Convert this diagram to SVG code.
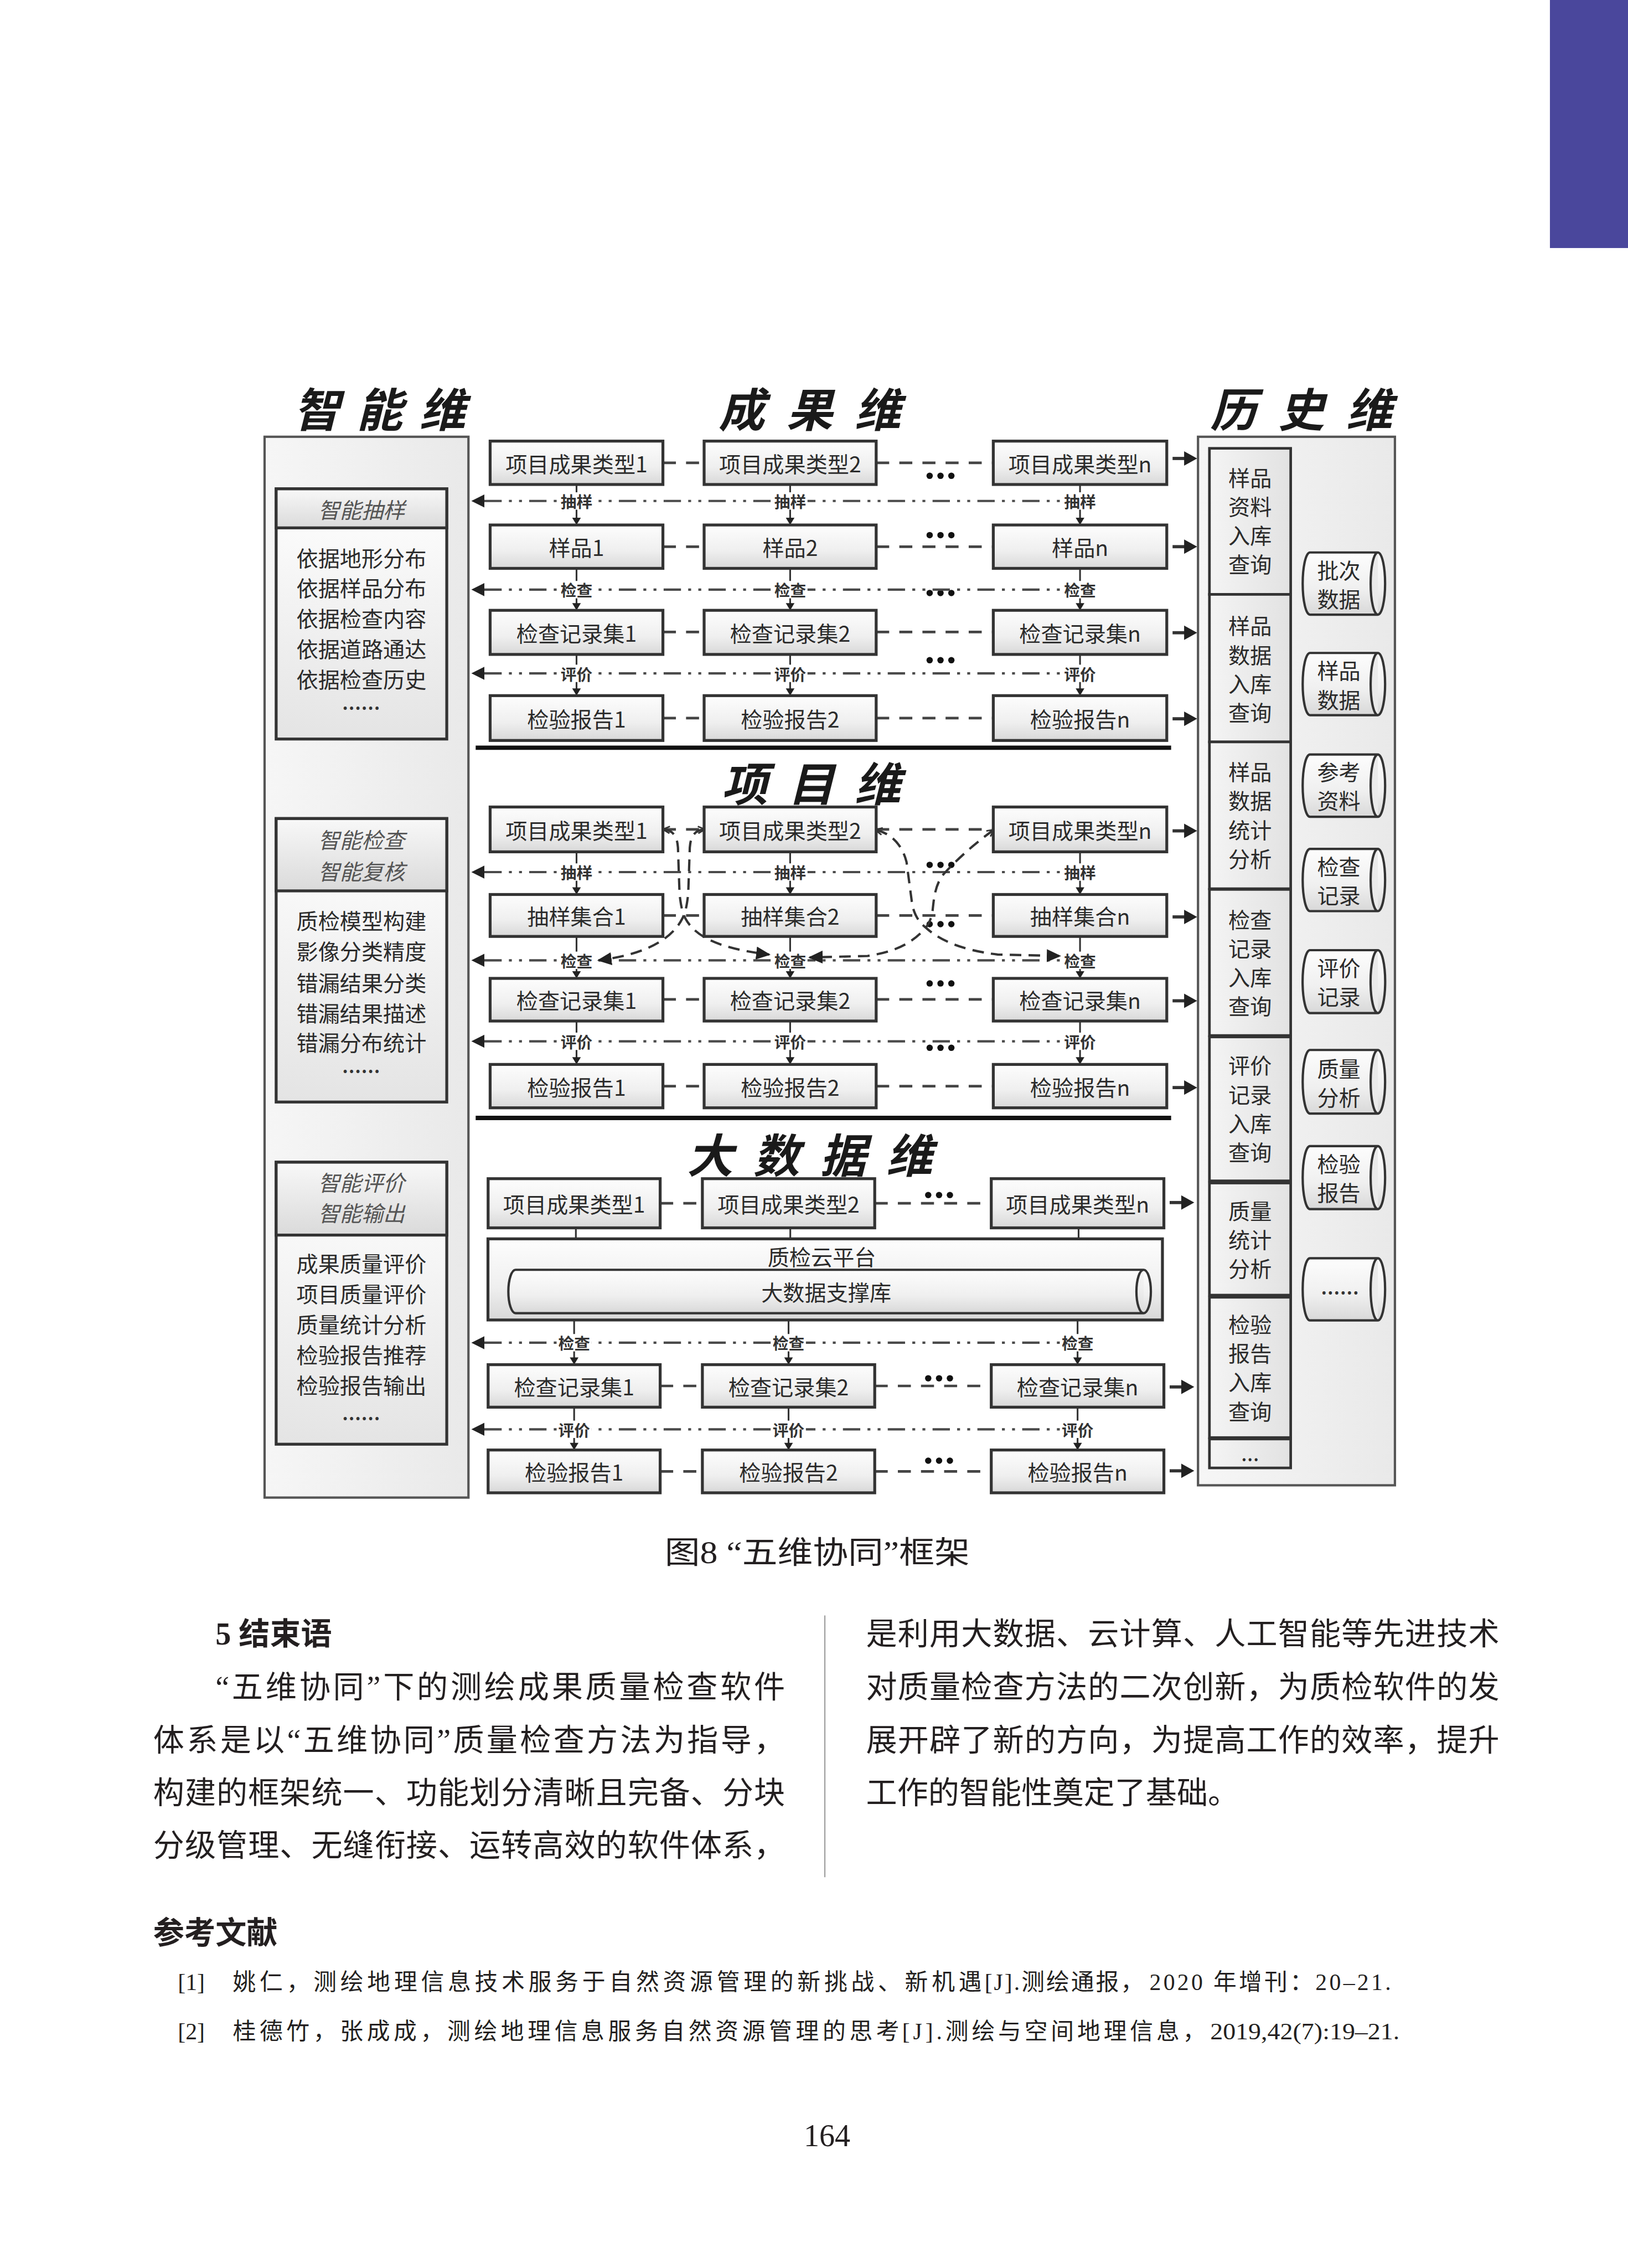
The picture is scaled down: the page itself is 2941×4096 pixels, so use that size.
<svg xmlns="http://www.w3.org/2000/svg" width="2941" height="4096" viewBox="0 0 2941 4096">
<defs>
<linearGradient id="gBox" x1="0" y1="0" x2="0" y2="1"><stop offset="0" stop-color="#fdfdfd"/><stop offset="0.6" stop-color="#efefef"/><stop offset="1" stop-color="#d8d8d8"/></linearGradient>
<linearGradient id="gHdr" x1="0" y1="0" x2="0" y2="1"><stop offset="0" stop-color="#f8f8f8"/><stop offset="1" stop-color="#dadada"/></linearGradient>
<linearGradient id="gBody" x1="0" y1="0" x2="0" y2="1"><stop offset="0" stop-color="#ffffff"/><stop offset="1" stop-color="#e4e4e4"/></linearGradient>
<linearGradient id="gPanel" x1="0" y1="0" x2="1" y2="0"><stop offset="0" stop-color="#f6f6f6"/><stop offset="1" stop-color="#e9e9e9"/></linearGradient>
<linearGradient id="gCol" x1="0" y1="0" x2="1" y2="0"><stop offset="0" stop-color="#f4f4f4"/><stop offset="1" stop-color="#e2e2e2"/></linearGradient>
<marker id="ahF" viewBox="0 0 10 10" refX="9" refY="5" markerWidth="10" markerHeight="10" markerUnits="userSpaceOnUse" orient="auto"><path d="M0,0.5 L10,5 L0,9.5 z" fill="#222"/></marker>
<marker id="ahO" viewBox="0 0 10 10" refX="8" refY="5" markerWidth="6" markerHeight="6" markerUnits="userSpaceOnUse" orient="auto-start-reverse"><path d="M1,1 L9,5 L1,9" fill="none" stroke="#333" stroke-width="1.8"/></marker>
</defs>
<style>
.box{fill:url(#gBox);stroke:#333;stroke-width:2}
.panel{fill:url(#gPanel);stroke:#555;stroke-width:1.6}
.col{fill:url(#gCol);stroke:#333;stroke-width:1.8}
.cyl{fill:url(#gBox);stroke:#333;stroke-width:1.6}
.t{font-family:"Noto Sans CJK SC","Liberation Sans",sans-serif;font-size:15px;fill:#2b2b2b;text-anchor:middle;dominant-baseline:central}
.hi{font-style:italic;fill:#555}
.el{font-family:"Noto Sans CJK SC","Liberation Sans",sans-serif;font-size:12px;font-weight:bold;fill:#333;text-anchor:middle;letter-spacing:0.5px}
.title{font-family:"Noto Sans CJK SC",sans-serif;font-size:32px;font-style:italic;font-weight:bold;fill:#1a1a1a}
.lbl{font-family:"Noto Sans CJK SC",sans-serif;font-size:11px;font-weight:bold;fill:#333;text-anchor:middle;dominant-baseline:central}
.lb{fill:#fff}
.conn{stroke:#444;stroke-width:1.8;stroke-dasharray:9 7;fill:none}
.dd{stroke:#4a4a4a;stroke-width:1.6;stroke-dasharray:12 5 2 5 2 5;fill:none}
.cv{stroke:#333;stroke-width:1.6;stroke-dasharray:8 5;fill:none}
.vl{stroke:#333;stroke-width:1.2}
.ah{fill:#222}
.dot{fill:#111}
.sep{stroke:#111;stroke-width:3}
.body{font-family:"Liberation Serif","Noto Sans CJK SC",serif;font-size:21.5px;fill:#231f20}
.ref{font-family:"Liberation Serif","Noto Sans CJK SC",serif;font-size:16px;fill:#231f20}
</style>
<rect x="0" y="0" width="2941" height="4096" fill="#ffffff"/>
<g transform="scale(2.6119)">
<rect id="bar" x="1072" y="0" width="54" height="171.5" fill="#4a479c"/>

<g id="titles">
<text class="title" x="203 246.5 290" y="295">智能维</text>
<text class="title" x="497 544 591" y="295">成果维</text>
<text class="title" x="837 884 931" y="295">历史维</text>
<text class="title" x="499 545 591" y="554">项目维</text>
<text class="title" x="475 521 567 613" y="811">大数据维</text>
</g>

<g id="left-panel">
<rect class="panel" x="183" y="302" width="141" height="733.5"/>
</g>
<g id="smart-sampling">
<rect x="191" y="338" width="118" height="173" fill="url(#gBody)" stroke="#333" stroke-width="2"/>
<rect x="191" y="338" width="118" height="27" fill="url(#gHdr)" stroke="#333" stroke-width="2"/>
<text class="t hi" x="250" y="352">智能抽样</text>
<text class="t" x="250" y="385">依据地形分布</text>
<text class="t" x="250" y="406">依据样品分布</text>
<text class="t" x="250" y="427">依据检查内容</text>
<text class="t" x="250" y="448">依据道路通达</text>
<text class="t" x="250" y="469">依据检查历史</text>
<text class="el" x="250" y="491">......</text>
</g>
<g id="smart-check">
<rect x="191" y="566" width="118" height="196" fill="url(#gBody)" stroke="#333" stroke-width="2"/>
<rect x="191" y="566" width="118" height="50" fill="url(#gHdr)" stroke="#333" stroke-width="2"/>
<text class="t hi" x="250" y="580">智能检查</text>
<text class="t hi" x="250" y="602">智能复核</text>
<text class="t" x="250" y="636">质检模型构建</text>
<text class="t" x="250" y="657">影像分类精度</text>
<text class="t" x="250" y="679">错漏结果分类</text>
<text class="t" x="250" y="700">错漏结果描述</text>
<text class="t" x="250" y="720">错漏分布统计</text>
<text class="el" x="250" y="742">......</text>
</g>
<g id="smart-eval">
<rect x="191" y="803.6" width="118" height="195" fill="url(#gBody)" stroke="#333" stroke-width="2"/>
<rect x="191" y="803.6" width="118" height="50.4" fill="url(#gHdr)" stroke="#333" stroke-width="2"/>
<text class="t hi" x="250" y="817">智能评价</text>
<text class="t hi" x="250" y="838">智能输出</text>
<text class="t" x="250" y="873">成果质量评价</text>
<text class="t" x="250" y="894">项目质量评价</text>
<text class="t" x="250" y="915">质量统计分析</text>
<text class="t" x="250" y="936">检验报告推荐</text>
<text class="t" x="250" y="957">检验报告输出</text>
<text class="el" x="250" y="982">......</text>
</g>

<g id="history-panel">
<rect class="panel" x="828.6" y="302" width="136.2" height="725"/>
</g>
<g id="h-a"><rect class="col" x="836.5" y="310" width="56.2" height="101"/>
<text class="t" x="864.6" y="329.5">样品</text><text class="t" x="864.6" y="349.5">资料</text><text class="t" x="864.6" y="369.5">入库</text><text class="t" x="864.6" y="389.5">查询</text></g>
<g id="h-b"><rect class="col" x="836.5" y="411" width="56.2" height="102"/>
<text class="t" x="864.6" y="432">样品</text><text class="t" x="864.6" y="452">数据</text><text class="t" x="864.6" y="472">入库</text><text class="t" x="864.6" y="492">查询</text></g>
<g id="h-c"><rect class="col" x="836.5" y="513" width="56.2" height="101.5"/>
<text class="t" x="864.6" y="533">样品</text><text class="t" x="864.6" y="553">数据</text><text class="t" x="864.6" y="573">统计</text><text class="t" x="864.6" y="593">分析</text></g>
<g id="h-d"><rect class="col" x="836.5" y="615" width="56.2" height="101"/>
<text class="t" x="864.6" y="635">检查</text><text class="t" x="864.6" y="655">记录</text><text class="t" x="864.6" y="675">入库</text><text class="t" x="864.6" y="695">查询</text></g>
<g id="h-e"><rect class="col" x="836.5" y="717" width="56.2" height="99.5"/>
<text class="t" x="864.6" y="736">评价</text><text class="t" x="864.6" y="756">记录</text><text class="t" x="864.6" y="776">入库</text><text class="t" x="864.6" y="796">查询</text></g>
<g id="h-f"><rect class="col" x="836.5" y="818" width="56.2" height="77.5"/>
<text class="t" x="864.6" y="836.5">质量</text><text class="t" x="864.6" y="856.5">统计</text><text class="t" x="864.6" y="876.5">分析</text></g>
<g id="h-g"><rect class="col" x="836.5" y="897" width="56.2" height="97"/>
<text class="t" x="864.6" y="915">检验</text><text class="t" x="864.6" y="935">报告</text><text class="t" x="864.6" y="955">入库</text><text class="t" x="864.6" y="975">查询</text></g>
<g id="h-h"><rect class="col" x="836.5" y="995" width="56.2" height="20"/>
<text class="t" x="864.6" y="1004">...</text></g>

<g id="cyl-1"><path class="cyl" d="M906,382 L953,382 A5,21.5 0 0 1 953,425 L906,425 A5,21.5 0 0 1 906,382 Z M953,382 A5,21.5 0 0 0 953,425"/>
<text class="t" x="926" y="393.5">批次</text><text class="t" x="926" y="413.5">数据</text></g>
<g id="cyl-2"><path class="cyl" d="M906,451.5 L953,451.5 A5,21.5 0 0 1 953,494.5 L906,494.5 A5,21.5 0 0 1 906,451.5 Z M953,451.5 A5,21.5 0 0 0 953,494.5"/>
<text class="t" x="926" y="463">样品</text><text class="t" x="926" y="483">数据</text></g>
<g id="cyl-3"><path class="cyl" d="M906,521.7 L953,521.7 A5,21.5 0 0 1 953,564.8 L906,564.8 A5,21.5 0 0 1 906,521.7 Z M953,521.7 A5,21.5 0 0 0 953,564.8"/>
<text class="t" x="926" y="533">参考</text><text class="t" x="926" y="553">资料</text></g>
<g id="cyl-4"><path class="cyl" d="M906,587 L953,587 A5,21.5 0 0 1 953,630 L906,630 A5,21.5 0 0 1 906,587 Z M953,587 A5,21.5 0 0 0 953,630"/>
<text class="t" x="926" y="598.5">检查</text><text class="t" x="926" y="618.5">记录</text></g>
<g id="cyl-5"><path class="cyl" d="M906,657 L953,657 A5,21.5 0 0 1 953,700.5 L906,700.5 A5,21.5 0 0 1 906,657 Z M953,657 A5,21.5 0 0 0 953,700.5"/>
<text class="t" x="926" y="668.5">评价</text><text class="t" x="926" y="688.5">记录</text></g>
<g id="cyl-6"><path class="cyl" d="M906,726 L953,726 A5,22 0 0 1 953,770 L906,770 A5,22 0 0 1 906,726 Z M953,726 A5,22 0 0 0 953,770"/>
<text class="t" x="926" y="738">质量</text><text class="t" x="926" y="758">分析</text></g>
<g id="cyl-7"><path class="cyl" d="M906,792.5 L953,792.5 A5,21.75 0 0 1 953,836 L906,836 A5,21.75 0 0 1 906,792.5 Z M953,792.5 A5,21.75 0 0 0 953,836"/>
<text class="t" x="926" y="804">检验</text><text class="t" x="926" y="824">报告</text></g>
<g id="cyl-8"><path class="cyl" d="M906,870 L953,870 A5,21.5 0 0 1 953,913 L906,913 A5,21.5 0 0 1 906,870 Z M953,870 A5,21.5 0 0 0 953,913"/>
<text class="el" x="927" y="895">......</text></g>

<g id="seps">
<line class="sep" x1="329" y1="517" x2="810" y2="517"/>
<line class="sep" x1="329" y1="773" x2="810" y2="773"/>
</g>

<g id="connectors">
<line class="conn" x1="458.5" y1="320" x2="487" y2="320"/><line class="conn" x1="606" y1="320" x2="687" y2="320"/>
<line class="conn" x1="458.5" y1="378" x2="487" y2="378"/><line class="conn" x1="606" y1="378" x2="687" y2="378"/>
<line class="conn" x1="458.5" y1="437" x2="487" y2="437"/><line class="conn" x1="606" y1="437" x2="687" y2="437"/>
<line class="conn" x1="458.5" y1="496.5" x2="487" y2="496.5"/><line class="conn" x1="606" y1="496.5" x2="687" y2="496.5"/>
<line class="conn" x1="458.5" y1="573.5" x2="487" y2="573.5"/><line class="conn" x1="606" y1="573.5" x2="687" y2="573.5"/>
<line class="conn" x1="458.5" y1="633" x2="487" y2="633"/><line class="conn" x1="606" y1="633" x2="687" y2="633"/>
<line class="conn" x1="458.5" y1="691" x2="487" y2="691"/><line class="conn" x1="606" y1="691" x2="687" y2="691"/>
<line class="conn" x1="458.5" y1="751" x2="487" y2="751"/><line class="conn" x1="606" y1="751" x2="687" y2="751"/>
<line class="conn" x1="456.6" y1="832" x2="485.8" y2="832"/><line class="conn" x1="605" y1="832" x2="685.6" y2="832"/>
<line class="conn" x1="456.6" y1="958.3" x2="485.8" y2="958.3"/><line class="conn" x1="605" y1="958.3" x2="685.6" y2="958.3"/>
<line class="conn" x1="456.6" y1="1017.4" x2="485.8" y2="1017.4"/><line class="conn" x1="605" y1="1017.4" x2="685.6" y2="1017.4"/>

<g class="dot">
<circle cx="643" cy="329" r="2.2"/><circle cx="650.5" cy="329" r="2.2"/><circle cx="658" cy="329" r="2.2"/>
<circle cx="643" cy="370" r="2.2"/><circle cx="650.5" cy="370" r="2.2"/><circle cx="658" cy="370" r="2.2"/>
<circle cx="643" cy="410" r="2.2"/><circle cx="650.5" cy="410" r="2.2"/><circle cx="658" cy="410" r="2.2"/>
<circle cx="643" cy="456.5" r="2.2"/><circle cx="650.5" cy="456.5" r="2.2"/><circle cx="658" cy="456.5" r="2.2"/>
<circle cx="643" cy="598" r="2.2"/><circle cx="650.5" cy="598" r="2.2"/><circle cx="658" cy="598" r="2.2"/>
<circle cx="643" cy="639" r="2.2"/><circle cx="650.5" cy="639" r="2.2"/><circle cx="658" cy="639" r="2.2"/>
<circle cx="643" cy="680" r="2.2"/><circle cx="650.5" cy="680" r="2.2"/><circle cx="658" cy="680" r="2.2"/>
<circle cx="643" cy="724.5" r="2.2"/><circle cx="650.5" cy="724.5" r="2.2"/><circle cx="658" cy="724.5" r="2.2"/>
<circle cx="642" cy="826.3" r="2.2"/><circle cx="649.5" cy="826.3" r="2.2"/><circle cx="657" cy="826.3" r="2.2"/>
<circle cx="642" cy="953" r="2.2"/><circle cx="649.5" cy="953" r="2.2"/><circle cx="657" cy="953" r="2.2"/>
<circle cx="642" cy="1010" r="2.2"/><circle cx="649.5" cy="1010" r="2.2"/><circle cx="657" cy="1010" r="2.2"/>
</g>

<line class="dd" x1="335" y1="346.4" x2="735" y2="346.4"/><polygon class="ah" points="326,346.4 335,341.9 335,350.9"/>
<line class="dd" x1="335" y1="407.7" x2="735" y2="407.7"/><polygon class="ah" points="326,407.7 335,403.2 335,412.2"/>
<line class="dd" x1="335" y1="465.6" x2="735" y2="465.6"/><polygon class="ah" points="326,465.6 335,461.1 335,470.1"/>
<line class="dd" x1="335" y1="603" x2="735" y2="603"/><polygon class="ah" points="326,603 335,598.5 335,607.5"/>
<line class="dd" x1="335" y1="664" x2="735" y2="664"/><polygon class="ah" points="326,664 335,659.5 335,668.5"/>
<line class="dd" x1="335" y1="720" x2="735" y2="720"/><polygon class="ah" points="326,720 335,715.5 335,724.5"/>
<line class="dd" x1="335" y1="928.4" x2="733" y2="928.4"/><polygon class="ah" points="326,928.4 335,923.9 335,932.9"/>
<line class="dd" x1="335" y1="988.3" x2="733" y2="988.3"/><polygon class="ah" points="326,988.3 335,983.8 335,992.8"/>

<g id="v-s1">
<line class="vl" x1="398.75" y1="335" x2="398.75" y2="359"/><polygon class="ah" points="398.75,363 395.75,358 401.75,358"/>
<line class="vl" x1="546.5" y1="335" x2="546.5" y2="359"/><polygon class="ah" points="546.5,363 543.5,358 549.5,358"/>
<line class="vl" x1="747" y1="335" x2="747" y2="359"/><polygon class="ah" points="747,363 744,358 750,358"/>
<line class="vl" x1="398.75" y1="393" x2="398.75" y2="418"/><polygon class="ah" points="398.75,422 395.75,417 401.75,417"/>
<line class="vl" x1="546.5" y1="393" x2="546.5" y2="418"/><polygon class="ah" points="546.5,422 543.5,417 549.5,417"/>
<line class="vl" x1="747" y1="393" x2="747" y2="418"/><polygon class="ah" points="747,422 744,417 750,417"/>
<line class="vl" x1="398.75" y1="452.5" x2="398.75" y2="477"/><polygon class="ah" points="398.75,481 395.75,476 401.75,476"/>
<line class="vl" x1="546.5" y1="452.5" x2="546.5" y2="477"/><polygon class="ah" points="546.5,481 543.5,476 549.5,476"/>
<line class="vl" x1="747" y1="452.5" x2="747" y2="477"/><polygon class="ah" points="747,481 744,476 750,476"/>
</g>
<g id="v-s2">
<line class="vl" x1="398.75" y1="589" x2="398.75" y2="614.5"/><polygon class="ah" points="398.75,618.5 395.75,613.5 401.75,613.5"/>
<line class="vl" x1="546.5" y1="589" x2="546.5" y2="614.5"/><polygon class="ah" points="546.5,618.5 543.5,613.5 549.5,613.5"/>
<line class="vl" x1="747" y1="589" x2="747" y2="614.5"/><polygon class="ah" points="747,618.5 744,613.5 750,613.5"/>
<line class="vl" x1="398.75" y1="647.5" x2="398.75" y2="672.5"/><polygon class="ah" points="398.75,676.5 395.75,671.5 401.75,671.5"/>
<line class="vl" x1="546.5" y1="647.5" x2="546.5" y2="672.5"/><polygon class="ah" points="546.5,676.5 543.5,671.5 549.5,671.5"/>
<line class="vl" x1="747" y1="647.5" x2="747" y2="672.5"/><polygon class="ah" points="747,676.5 744,671.5 750,671.5"/>
<line class="vl" x1="398.75" y1="706" x2="398.75" y2="732"/><polygon class="ah" points="398.75,736 395.75,731 401.75,731"/>
<line class="vl" x1="546.5" y1="706" x2="546.5" y2="732"/><polygon class="ah" points="546.5,736 543.5,731 549.5,731"/>
<line class="vl" x1="747" y1="706" x2="747" y2="732"/><polygon class="ah" points="747,736 744,731 750,731"/>
</g>
<g id="v-s3">
<line class="vl" x1="398.3" y1="849" x2="398.3" y2="856.6"/>
<line class="vl" x1="546.6" y1="849" x2="546.6" y2="856.6"/>
<line class="vl" x1="746" y1="849" x2="746" y2="856.6"/>
<line class="vl" x1="397.1" y1="912.7" x2="397.1" y2="939.6"/><polygon class="ah" points="397.1,943.6 394.1,938.6 400.1,938.6"/>
<line class="vl" x1="545.4" y1="912.7" x2="545.4" y2="939.6"/><polygon class="ah" points="545.4,943.6 542.4,938.6 548.4,938.6"/>
<line class="vl" x1="745.3" y1="912.7" x2="745.3" y2="939.6"/><polygon class="ah" points="745.3,943.6 742.3,938.6 748.3,938.6"/>
<line class="vl" x1="397.1" y1="973" x2="397.1" y2="998.6"/><polygon class="ah" points="397.1,1002.6 394.1,997.6 400.1,997.6"/>
<line class="vl" x1="545.4" y1="973" x2="545.4" y2="998.6"/><polygon class="ah" points="545.4,1002.6 542.4,997.6 548.4,997.6"/>
<line class="vl" x1="745.3" y1="973" x2="745.3" y2="998.6"/><polygon class="ah" points="745.3,1002.6 742.3,997.6 748.3,997.6"/>
</g>

<path class="cv" marker-start="url(#ahO)" marker-end="url(#ahF)" d="M459,573.5 C466,574 469,579 469,589 L470,618 C471,627 472,631 474,635 C481,648 498,656 532,660"/>
<path class="cv" marker-start="url(#ahO)" marker-end="url(#ahF)" d="M487,573.5 C480,574 477,579 477,589 L476,618 C475,627 474,631 472,635 C465,649 447,660 414,664"/>
<path class="cv" marker-start="url(#ahO)" marker-end="url(#ahF)" d="M606,574 C616,576 624,584 627,596 L631,626 C633,634 636,638 641,642 C650,650 665,657 690,660 L733,661"/>
<path class="cv" marker-start="url(#ahO)" marker-end="url(#ahF)" d="M687,574 C676,582 664,592 653,604 C647,611 646,620 645,630 C644,636 642,640 638,644 C630,652 620,658 600,661 L560,662"/>

<g id="r-arrows">
<line class="vl" style="stroke-width:2.2" x1="811" y1="317" x2="820" y2="317"/><polygon class="ah" points="828,317 819,312 819,322"/>
<line class="vl" style="stroke-width:2.2" x1="811" y1="378" x2="820" y2="378"/><polygon class="ah" points="828,378 819,373 819,383"/>
<line class="vl" style="stroke-width:2.2" x1="811" y1="437.5" x2="820" y2="437.5"/><polygon class="ah" points="828,437.5 819,432.5 819,442.5"/>
<line class="vl" style="stroke-width:2.2" x1="811" y1="497" x2="820" y2="497"/><polygon class="ah" points="828,497 819,492 819,502"/>
<line class="vl" style="stroke-width:2.2" x1="811" y1="574.5" x2="820" y2="574.5"/><polygon class="ah" points="828,574.5 819,569.5 819,579.5"/>
<line class="vl" style="stroke-width:2.2" x1="811" y1="634" x2="820" y2="634"/><polygon class="ah" points="828,634 819,629 819,639"/>
<line class="vl" style="stroke-width:2.2" x1="811" y1="692" x2="820" y2="692"/><polygon class="ah" points="828,692 819,687 819,697"/>
<line class="vl" style="stroke-width:2.2" x1="811" y1="752" x2="820" y2="752"/><polygon class="ah" points="828,752 819,747 819,757"/>
<line class="vl" style="stroke-width:2.2" x1="809" y1="831.5" x2="818" y2="831.5"/><polygon class="ah" points="826,831.5 817,826.5 817,836.5"/>
<line class="vl" style="stroke-width:2.2" x1="809" y1="959" x2="818" y2="959"/><polygon class="ah" points="826,959 817,954 817,964"/>
<line class="vl" style="stroke-width:2.2" x1="809" y1="1017" x2="818" y2="1017"/><polygon class="ah" points="826,1017 817,1012 817,1022"/>
</g>

<g id="labels">
<rect class="lb" x="386.75" y="340.4" width="24" height="12"/><text class="lbl" x="398.75" y="346.4">抽样</text>
<rect class="lb" x="534.5" y="340.4" width="24" height="12"/><text class="lbl" x="546.5" y="346.4">抽样</text>
<rect class="lb" x="735" y="340.4" width="24" height="12"/><text class="lbl" x="747" y="346.4">抽样</text>
<rect class="lb" x="386.75" y="401.7" width="24" height="12"/><text class="lbl" x="398.75" y="407.7">检查</text>
<rect class="lb" x="534.5" y="401.7" width="24" height="12"/><text class="lbl" x="546.5" y="407.7">检查</text>
<rect class="lb" x="735" y="401.7" width="24" height="12"/><text class="lbl" x="747" y="407.7">检查</text>
<rect class="lb" x="386.75" y="459.6" width="24" height="12"/><text class="lbl" x="398.75" y="465.6">评价</text>
<rect class="lb" x="534.5" y="459.6" width="24" height="12"/><text class="lbl" x="546.5" y="465.6">评价</text>
<rect class="lb" x="735" y="459.6" width="24" height="12"/><text class="lbl" x="747" y="465.6">评价</text>
<rect class="lb" x="386.75" y="597" width="24" height="12"/><text class="lbl" x="398.75" y="603">抽样</text>
<rect class="lb" x="534.5" y="597" width="24" height="12"/><text class="lbl" x="546.5" y="603">抽样</text>
<rect class="lb" x="735" y="597" width="24" height="12"/><text class="lbl" x="747" y="603">抽样</text>
<rect class="lb" x="386.75" y="658" width="24" height="12"/><text class="lbl" x="398.75" y="664">检查</text>
<rect class="lb" x="534.5" y="658" width="24" height="12"/><text class="lbl" x="546.5" y="664">检查</text>
<rect class="lb" x="735" y="658" width="24" height="12"/><text class="lbl" x="747" y="664">检查</text>
<rect class="lb" x="386.75" y="714" width="24" height="12"/><text class="lbl" x="398.75" y="720">评价</text>
<rect class="lb" x="534.5" y="714" width="24" height="12"/><text class="lbl" x="546.5" y="720">评价</text>
<rect class="lb" x="735" y="714" width="24" height="12"/><text class="lbl" x="747" y="720">评价</text>
<rect class="lb" x="385.1" y="922.4" width="24" height="12"/><text class="lbl" x="397.1" y="928.4">检查</text>
<rect class="lb" x="533.4" y="922.4" width="24" height="12"/><text class="lbl" x="545.4" y="928.4">检查</text>
<rect class="lb" x="733.3" y="922.4" width="24" height="12"/><text class="lbl" x="745.3" y="928.4">检查</text>
<rect class="lb" x="385.1" y="982.3" width="24" height="12"/><text class="lbl" x="397.1" y="988.3">评价</text>
<rect class="lb" x="533.4" y="982.3" width="24" height="12"/><text class="lbl" x="545.4" y="988.3">评价</text>
<rect class="lb" x="733.3" y="982.3" width="24" height="12"/><text class="lbl" x="745.3" y="988.3">评价</text>
</g>
</g>

<g id="s1-type1"><rect class="box" x="339" y="305" width="119.5" height="30"/><text class="t" x="398.75" y="320">项目成果类型1</text></g>
<g id="s1-type2"><rect class="box" x="487" y="305" width="119" height="30"/><text class="t" x="546.5" y="320">项目成果类型2</text></g>
<g id="s1-typen"><rect class="box" x="687" y="305" width="120" height="30"/><text class="t" x="747" y="320">项目成果类型n</text></g>
<g id="s1-sample1"><rect class="box" x="339" y="363" width="119.5" height="30"/><text class="t" x="398.75" y="378">样品1</text></g>
<g id="s1-sample2"><rect class="box" x="487" y="363" width="119" height="30"/><text class="t" x="546.5" y="378">样品2</text></g>
<g id="s1-samplen"><rect class="box" x="687" y="363" width="120" height="30"/><text class="t" x="747" y="378">样品n</text></g>
<g id="s1-rec1"><rect class="box" x="339" y="422" width="119.5" height="30.5"/><text class="t" x="398.75" y="437.25">检查记录集1</text></g>
<g id="s1-rec2"><rect class="box" x="487" y="422" width="119" height="30.5"/><text class="t" x="546.5" y="437.25">检查记录集2</text></g>
<g id="s1-recn"><rect class="box" x="687" y="422" width="120" height="30.5"/><text class="t" x="747" y="437.25">检查记录集n</text></g>
<g id="s1-rep1"><rect class="box" x="339" y="481" width="119.5" height="31"/><text class="t" x="398.75" y="496.5">检验报告1</text></g>
<g id="s1-rep2"><rect class="box" x="487" y="481" width="119" height="31"/><text class="t" x="546.5" y="496.5">检验报告2</text></g>
<g id="s1-repn"><rect class="box" x="687" y="481" width="120" height="31"/><text class="t" x="747" y="496.5">检验报告n</text></g>

<g id="s2-type1"><rect class="box" x="339" y="558" width="119.5" height="31"/><text class="t" x="398.75" y="573.5">项目成果类型1</text></g>
<g id="s2-type2"><rect class="box" x="487" y="558" width="119" height="31"/><text class="t" x="546.5" y="573.5">项目成果类型2</text></g>
<g id="s2-typen"><rect class="box" x="687" y="558" width="120" height="31"/><text class="t" x="747" y="573.5">项目成果类型n</text></g>
<g id="s2-set1"><rect class="box" x="339" y="618.5" width="119.5" height="29"/><text class="t" x="398.75" y="633">抽样集合1</text></g>
<g id="s2-set2"><rect class="box" x="487" y="618.5" width="119" height="29"/><text class="t" x="546.5" y="633">抽样集合2</text></g>
<g id="s2-setn"><rect class="box" x="687" y="618.5" width="120" height="29"/><text class="t" x="747" y="633">抽样集合n</text></g>
<g id="s2-rec1"><rect class="box" x="339" y="676.5" width="119.5" height="29.5"/><text class="t" x="398.75" y="691.25">检查记录集1</text></g>
<g id="s2-rec2"><rect class="box" x="487" y="676.5" width="119" height="29.5"/><text class="t" x="546.5" y="691.25">检查记录集2</text></g>
<g id="s2-recn"><rect class="box" x="687" y="676.5" width="120" height="29.5"/><text class="t" x="747" y="691.25">检查记录集n</text></g>
<g id="s2-rep1"><rect class="box" x="339" y="736" width="119.5" height="30"/><text class="t" x="398.75" y="751">检验报告1</text></g>
<g id="s2-rep2"><rect class="box" x="487" y="736" width="119" height="30"/><text class="t" x="546.5" y="751">检验报告2</text></g>
<g id="s2-repn"><rect class="box" x="687" y="736" width="120" height="30"/><text class="t" x="747" y="751">检验报告n</text></g>

<g id="s3-type1"><rect class="box" x="337.6" y="815" width="119" height="34"/><text class="t" x="397.1" y="832">项目成果类型1</text></g>
<g id="s3-type2"><rect class="box" x="485.8" y="815" width="119.2" height="34"/><text class="t" x="545.4" y="832">项目成果类型2</text></g>
<g id="s3-typen"><rect class="box" x="685.6" y="815" width="119.4" height="34"/><text class="t" x="745.3" y="832">项目成果类型n</text></g>
<g id="platform"><rect class="box" x="337.5" y="856.6" width="466.5" height="56.1"/>
<text class="t" x="568.4" y="868.5">质检云平台</text>
<path class="cyl" d="M356.6,878 L791,878 A5,15 0 0 1 791,908 L356.6,908 A5,15 0 0 1 356.6,878 Z M791,878 A5,15 0 0 0 791,908"/>
<text class="t" x="571.5" y="893">大数据支撑库</text></g>
<g id="s3-rec1"><rect class="box" x="337.6" y="943.6" width="119" height="29.4"/><text class="t" x="397.1" y="958.3">检查记录集1</text></g>
<g id="s3-rec2"><rect class="box" x="485.8" y="943.6" width="119.2" height="29.4"/><text class="t" x="545.4" y="958.3">检查记录集2</text></g>
<g id="s3-recn"><rect class="box" x="685.6" y="943.6" width="119.4" height="29.4"/><text class="t" x="745.3" y="958.3">检查记录集n</text></g>
<g id="s3-rep1"><rect class="box" x="337.6" y="1002.6" width="119" height="29.6"/><text class="t" x="397.1" y="1017.4">检验报告1</text></g>
<g id="s3-rep2"><rect class="box" x="485.8" y="1002.6" width="119.2" height="29.6"/><text class="t" x="545.4" y="1017.4">检验报告2</text></g>
<g id="s3-repn"><rect class="box" x="685.6" y="1002.6" width="119.4" height="29.6"/><text class="t" x="745.3" y="1017.4">检验报告n</text></g>

<g id="page-text">
<text class="body" x="459.7" y="1081" font-size="19" textLength="211" lengthAdjust="spacingAndGlyphs">图8 “五维协同”框架</text>
<text class="body" x="149" y="1137" font-size="21" font-weight="bold" font-family="Noto Sans CJK SC, sans-serif">5 结束语</text>
<text class="body" x="149" y="1174" textLength="394" lengthAdjust="spacing">“五维协同”下的测绘成果质量检查软件</text>
<text class="body" x="106" y="1210.5" textLength="437" lengthAdjust="spacing">体系是以“五维协同”质量检查方法为指导，</text>
<text class="body" x="106" y="1247" textLength="437" lengthAdjust="spacing">构建的框架统一、功能划分清晰且完备、分块</text>
<text class="body" x="106" y="1283.5" textLength="437" lengthAdjust="spacing">分级管理、无缝衔接、运转高效的软件体系，</text>
<text class="body" x="599" y="1137" textLength="438" lengthAdjust="spacing">是利用大数据、云计算、人工智能等先进技术</text>
<text class="body" x="599" y="1174" textLength="438" lengthAdjust="spacing">对质量检查方法的二次创新，为质检软件的发</text>
<text class="body" x="599" y="1210.5" textLength="438" lengthAdjust="spacing">展开辟了新的方向，为提高工作的效率，提升</text>
<text class="body" x="599" y="1247">工作的智能性奠定了基础。</text>
<line x1="570.5" y1="1117" x2="570.5" y2="1298" stroke="#9a9a9a" stroke-width="0.8"/>
<text class="body" x="106" y="1344" font-size="18" font-weight="bold" font-family="Noto Sans CJK SC, sans-serif">参考文献</text>
<text class="ref" x="123" y="1376">[1]</text>
<text class="ref" x="161" y="1376" textLength="518" lengthAdjust="spacing">姚仁，测绘地理信息技术服务于自然资源管理的新挑战、新机遇</text>
<text class="ref" x="681" y="1376" textLength="110" lengthAdjust="spacing">[J].测绘通报，</text>
<text class="ref" x="795" y="1376" textLength="167" lengthAdjust="spacing">2020 年增刊：20–21.</text>
<text class="ref" x="123" y="1410">[2]</text>
<text class="ref" x="161" y="1410" textLength="461" lengthAdjust="spacing">桂德竹，张成成，测绘地理信息服务自然资源管理的思考</text>
<text class="ref" x="624" y="1410" textLength="210" lengthAdjust="spacing">[J].测绘与空间地理信息，</text>
<text class="ref" x="837" y="1410" textLength="131" lengthAdjust="spacingAndGlyphs">2019,42(7):19–21.</text>
<text class="body" x="572" y="1484" font-size="20" text-anchor="middle">164</text>
</g>
</g>
</svg>
